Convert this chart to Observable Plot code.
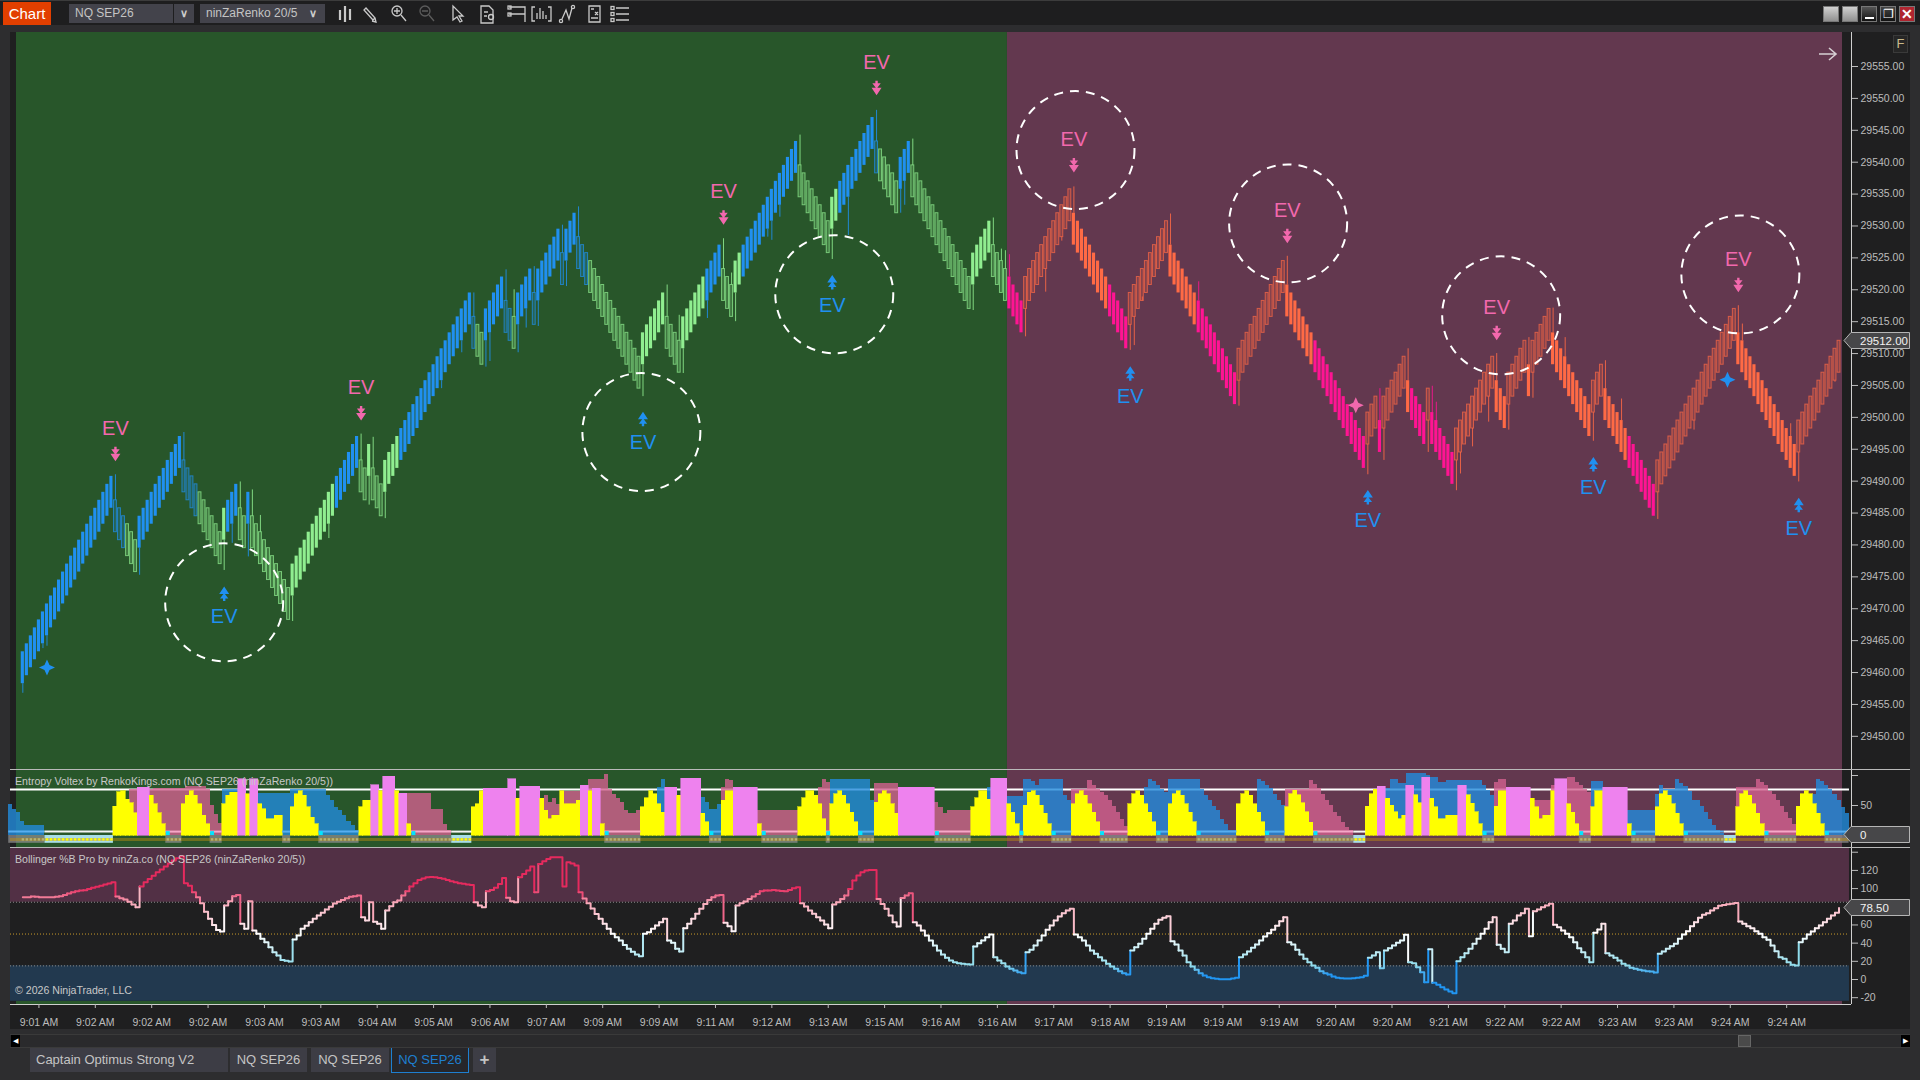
<!DOCTYPE html>
<html><head><meta charset="utf-8">
<style>
html,body{margin:0;padding:0;background:#2d2d2f;width:1920px;height:1080px;overflow:hidden;font-family:"Liberation Sans",Arial,sans-serif}
.abs{position:absolute}
.pl{position:absolute;left:0}
.pl svg{display:block;overflow:visible}
.t{position:absolute;white-space:nowrap;color:#c8c8c8;font-size:10.6px;line-height:12px}
.tab{position:absolute;top:1048px;height:24px;background:#3d3d45;color:#c4c4c4;font-size:13px;line-height:24px;text-align:center}
.wb{position:absolute;top:6px;width:16px;height:16px;box-sizing:border-box;border:1px solid #777}
.sep{position:absolute;left:10px;width:1900px;height:1px;background:#b9b9b9}
</style>
<script src="https://cdn.jsdelivr.net/npm/d3@7"></script>
<script src="https://cdn.jsdelivr.net/npm/@observablehq/plot@0.6"></script>
</head><body>
<div class="abs" style="left:0;top:0;width:1920px;height:25px;background:#1e1e1f;border-top:1px solid #3c3c3c;box-sizing:border-box"></div>
<div class="abs" style="left:3px;top:2px;width:48px;height:23px;background:#e23f00;color:#fff;font-size:15px;line-height:23px;text-align:center">Chart</div>
<div class="abs" style="left:69px;top:4px;width:104px;height:19px;background:#43434b;color:#c4c4c4;font-size:12px;line-height:19px;text-indent:6px">NQ SEP26</div>
<div class="abs" style="left:174px;top:4px;width:20px;height:19px;background:#43434b;color:#ccc;font-size:11px;line-height:19px;text-align:center;font-weight:bold">&#8744;</div>
<div class="abs" style="left:200px;top:4px;width:125px;height:19px;background:#43434b;color:#c4c4c4;font-size:12px;line-height:19px;text-indent:6px">ninZaRenko 20/5</div>
<div class="abs" style="left:309px;top:4px;color:#ccc;font-size:11px;line-height:19px;font-weight:bold">&#8744;</div>
<svg class="abs" style="left:336px;top:4px" width="300" height="20" fill="none" stroke="#c9c9c9" stroke-width="1.3">
<path d="M4 6v10M4 8h0M9 2v16M14 5v11" stroke-width="2.2"/>
<path d="M30 4l9 10-2 2-9-10zM39 14l1 4-4-1"/>
<circle cx="61" cy="7" r="5"/><path d="M65 11l5 6M58 7h6M61 4v6"/>
<circle cx="89" cy="7" r="5" stroke="#5c5c5c"/><path d="M93 11l5 6M86 7h6" stroke="#5c5c5c"/>
<path d="M117 2v14l4-3 3 5 2-1-3-5h4z"/>
<path d="M145 2h8l4 4v13h-12zM148 8h4M148 12h3"/><circle cx="155" cy="13" r="2.5"/>
<path d="M173 3h16v15M173 10h16"/><rect x="172" y="2" width="3" height="3"/><rect x="172" y="9" width="3" height="3"/>
<path d="M199 3h-3v14h3M212 3h3v14h-3M201 15V9M204 15V4M207 15V7M210 15V11"/>
<circle cx="225" cy="17" r="1.6"/><circle cx="237" cy="3" r="1.6"/><path d="M226 15l4-9 3 9 3-11"/>
<path d="M253 2h11v16h-11zM255 5h3M259 8l3 3M262 8l-3 3M255 14h7"/>
<path d="M280 4h13M280 10h13M280 16h13"/><rect x="275" y="2.5" width="3" height="3"/><rect x="275" y="8.5" width="3" height="3"/><rect x="275" y="14.5" width="3" height="3"/>
</svg>
<div class="wb" style="left:1823px;background:linear-gradient(#d0d0d0,#909090)"></div>
<div class="wb" style="left:1842px;background:linear-gradient(#d0d0d0,#909090)"></div>
<div class="wb" style="left:1861px;background:linear-gradient(#555,#111)"><div class="abs" style="left:3px;top:10px;width:9px;height:2px;background:#fff"></div></div>
<div class="wb" style="left:1880px;background:linear-gradient(#444,#111);color:#fff;font-size:12px;line-height:14px;text-align:center">&#10064;</div>
<div class="wb" style="left:1899px;background:#b02530;color:#fff;font-size:14px;line-height:14px;text-align:center;font-weight:bold">&#10005;</div>
<div class="abs" style="left:10px;top:32px;width:1900px;height:997px;background:#1f1f20"></div>
<div id="main" class="pl" style="top:32px"></div>
<div id="vol" class="pl" style="top:769px"></div>
<div id="pct" class="pl" style="top:847px"></div>
<div class="sep" style="top:769px"></div>
<div class="sep" style="top:847px"></div>
<div class="t" style="left:15px;top:775px">Entropy Voltex by RenkoKings.com (NQ SEP26 (ninZaRenko 20/5))</div>
<div class="t" style="left:15px;top:853px">Bollinger %B Pro by ninZa.co (NQ SEP26 (ninZaRenko 20/5))</div>
<div class="t" style="left:15px;top:984px">&copy; 2026 NinjaTrader, LLC</div>
<div class="abs" style="left:1893px;top:35px;width:15px;height:18px;box-sizing:border-box;border:1px solid #3a3a3a;background:#262626;color:#c9b98a;font-size:13px;line-height:16px;text-align:center">F</div>
<svg class="abs" style="left:1818px;top:46px" width="20" height="16" fill="none" stroke="#d6cfd3" stroke-width="1.6"><path d="M1 8h17M11 2l7 6-7 6"/></svg>
<div id="tags"></div>
<div class="abs" style="left:10px;top:1034px;width:1900px;height:14px;background:#2a2a2c;border-top:1px solid #3a3a3a;border-bottom:1px solid #3a3a3a;box-sizing:border-box"></div>
<div class="abs" style="left:11px;top:1035px;width:9px;height:12px;background:#000;color:#fff;font-size:7px;line-height:12px;text-align:center">&#9664;</div>
<div class="abs" style="left:1901px;top:1035px;width:9px;height:12px;background:#000;color:#fff;font-size:7px;line-height:12px;text-align:center">&#9654;</div>
<div class="abs" style="left:1738px;top:1035px;width:13px;height:12px;background:#4a4a4a;border:1px solid #666;box-sizing:border-box"></div>
<div class="tab" style="left:30px;width:198px;text-align:left;text-indent:6px">Captain Optimus Strong V2</div>
<div class="tab" style="left:230px;width:77px">NQ SEP26</div>
<div class="tab" style="left:311px;width:78px">NQ SEP26</div>
<div class="tab" style="left:391px;width:78px;height:25px;background:#26262a;color:#1e7fd0;border:1px solid #1e7fd0;border-top:none;box-sizing:border-box">NQ SEP26</div>
<div class="tab" style="left:473px;width:23px;font-size:17px;font-weight:bold">+</div>
<script>
// Closing price of every renko bar, in 1.25-point bricks above brickBase.
const brickBase = 29449.5, brickSize = 1.25, brickBody = 4;
const closeBricks = [
 11,12,13,14,15,16,17,18,19,20,21,22,23,24,25,26,27,28,29,30,31,32,33,
 26,25,24,23,22,21,
 28,29,30,31,32,33,34,35,36,37,38,
 31,30,29,28,27,26,25,24,23,22,
 29,30,31,32, 25,24, 31,
 24,23,22,21,20,19,18,17,16,15,
 22,23,24,25,26,27,28,29,30,31,32,33,34,35,36,37,38,
 31,30, 37, 30,29,28,
 35,36,37,38,39,40,41,42,43,44,45,46,47,48,49,50,51,52,53,54,55,56,
 49,48,47, 54,55,56,57,58, 51,50,49, 56,57,58,59, 52, 59,60,61,62,63,64, 57, 64,65,66,
 59,58,57,56,55,54,53,52,51,50,49,48,47,46,45,44,
 51,52,53,54,55,56, 49,48,47,46,
 53,54,55,56,57,58,59,60,61,62, 55,54,53,
 60,61,62,63,64,65,66,67,68,69,70,71,72,73,74,75,
 68,67,66,65,64,63,62,61,
 68,69,70,71,72,73,74,75,76,77,78,
 71, 70,69,68,67,66, 73,74,75,
 68,67,66,65,64,63,62,61,60,59,58,57,56,55,54,
 61,62,63,64,65, 58,57,56,55, 54,53,52,51,
 58,59,60,61,62,63,64,65,66,67,68,69,
 62,61,60,59,58,57,56,55,54,53,52,51,50,49,
 56,57,58,59,60,61,62,63,64,65,
 58,57,56,55,54,53,52,51,50,49,48,47,46,45,44,43,42,
 49,50,51,52,53,54,55,56,57,58,59,60,
 53,52,51,50,49,48,47,46,45,44,43,42,41,40,39,38,37,36,35,34,
 41,42,43, 36, 43,44,45,46,47,48, 41,40,39,38,37, 44, 37,36,35,34,33,32,
 39,40,41,42,43,44,45,46,47,48, 41,40,39, 46,47,48,49,50, 43, 50,51,52,53,54,
 47,46,45,44,43,42,41,40,39,38, 45,46,47,
 40,39,38,37,36,35,34,33,32,31,30,29,28,
 35,36,37,38,39,40,41,42,43,44,45,46,47,48,49,50,51,52,53,54,
 47,46,45,44,43,42,41,40,39,38,37,36,35,34,33,
 40,41,42,43,44,45,46,47,48,49,50
];
// Bar paint: [first bar, style]. B/G = blue/green, O/M = orange/magenta; lower case = hollow.
const barStyles = [
 [0,"B"],[23,"b"],[26,"g"],[29,"B"],[40,"b"],[44,"g"],[50,"G"],[51,"B"],[54,"g"],[56,"B"],[57,"g"],[67,"G"],[78,"B"],
 [84,"g"],[86,"G"],[87,"g"],[90,"G"],[94,"B"],[112,"b"],[113,"g"],[115,"B"],[120,"b"],[122,"g"],[123,"B"],[127,"b"],
 [128,"B"],[134,"b"],[135,"B"],[138,"b"],[141,"g"],[154,"G"],[160,"g"],[164,"G"],[170,"B"],[174,"g"],[177,"G"],[179,"B"],
 [193,"g"],[201,"G"],[203,"B"],[212,"b"],[213,"g"],[218,"B"],[221,"g"],[236,"G"],[241,"g"],
 [245,"M"],[249,"o"],[261,"O"],[270,"M"],[275,"o"],[285,"O"],[292,"M"],[302,"o"],[314,"O"],[321,"M"],[334,"o"],[337,"M"],
 [338,"o"],[344,"O"],[345,"M"],[349,"o"],[350,"M"],[356,"o"],[366,"O"],[369,"o"],[374,"O"],[375,"o"],[380,"O"],[390,"o"],
 [393,"O"],[399,"M"],[406,"o"],[426,"O"],[441,"o"]
];
// Wick ends: [bar, brick level].
const wicks = [
 [0,5.8],[5,11.4],[6,11.7],[23,33.2],[29,20.6],[40,38.5],[50,21.2],[52,24.6],[54,32.3],[56,22.9],[57,31.3],[59,28.1],[67,14.8],
 [76,25.2],[84,38.3],[86,29.4],[87,37.9],[90,27.7],[104,44],[109,48.5],[112,56],[115,46.7],[116,47.4],[120,58.9],[122,56.4],
 [123,48.5],[125,51.6],[127,59.3],[128,51.8],[134,64.5],[135,56.8],[138,66.8],[154,43],[160,57],[163,53.2],[164,45.9],
 [170,52.8],[174,62.8],[176,58.5],[177,52.4],[185,63],[186,62.6],[188,65.5],[193,75.8],[201,60.2],[205,63.2],[212,78.9],
 [218,66],[219,67],[221,75.3],[236,53.8],[241,65.4],[243,61.5],[244,61.3],[245,60.8],[249,50.5],[254,56.1],[258,62.5],
 [261,69.3],[275,48.8],[276,49.4],[278,55.5],[285,65.9],[292,57.4],[302,41.8],[314,60.6],[334,33.2],[337,44],[338,35],
 [344,49],[349,36],[350,44.3],[351,42.3],[356,31.2],[357,33.3],[360,36.7],[364,39.8],[366,48.4],[369,38.8],[374,50.4],
 [375,42.8],[380,54.1],[383,50.4],[390,37.4],[393,47.5],[397,42.7],[406,27.6],[415,38.8],[426,54.4],[427,52.1],[439,39.6],
 [441,32.3],[450,44.8]
];
// EV signals: [bar, arrow price].
const sellSignals = [[23,29494.2],[84,29500.6],[174,29531.3],[212,29551.6],[261,29539.5],[314,29528.4],[366,29513.2],[426,29520.7]];
const buySignals  = [[50,29472.4],[154,29499.8],[201,29521.2],[275,29506.9],[334,29487.5],[390,29492.7],[441,29486.3]];
const blueStars = [[6,29460.8],[423.3,29505.9]];
const pinkStars = [[331,29501.9]];
const circles = [[50,29471],[153.6,29497.7],[201.5,29519.3],[261.4,29541.9],[314.2,29530.4],[367.1,29516],[426.5,29522.4]];
const priceTicks = [29450,29455,29460,29465,29470,29475,29480,29485,29490,29495,29500,29505,29510,29515,29520,29525,29530,29535,29540,29545,29550,29555];
const lastPrice = "29512.00", voltexLast = "0", pctLast = "78.50";
// Entropy Voltex front histogram: [first bar, Y yellow / V violet / _ none, value].
const voltexFront = [
 [23,"Y",48],[24,"Y",72],[25,"Y",74],[26,"Y",60],[27,"Y",54],[28,"Y",37],[29,"V",80],[32,"Y",66],[33,"Y",52],[34,"Y",37],[35,"Y",19],[36,"_",0],
 [40,"Y",52],[41,"Y",66],[42,"Y",74],[43,"Y",66],[44,"Y",52],[45,"Y",33],[46,"Y",19],[47,"_",0],
 [50,"Y",52],[51,"Y",66],[52,"Y",71],[53,"Y",71],[54,"V",94],[56,"Y",69],[57,"V",94],[59,"Y",52],[60,"Y",44],[61,"Y",27],[63,"Y",33],[65,"_",0],
 [67,"Y",47],[68,"Y",69],[69,"Y",74],[70,"Y",66],[71,"Y",47],[72,"Y",30],[73,"Y",19],[74,"_",0],
 [84,"Y",47],[85,"Y",58],[87,"V",84],[89,"Y",74],[90,"V",98],[93,"Y",74],[94,"V",70],[96,"Y",19],[97,"_",0],
 [112,"Y",47],[113,"Y",52],[114,"Y",74],[115,"V",78],[121,"V",94],[123,"Y",61],[124,"V",81],[129,"Y",61],[130,"Y",41],[131,"Y",27],[132,"Y",33],[134,"Y",74],[135,"Y",52],[138,"Y",58],[139,"V",83],[141,"Y",74],[142,"V",78],[144,"Y",19],[145,"_",0],
 [154,"Y",47],[155,"Y",62],[156,"Y",74],[157,"Y",69],[158,"Y",52],[159,"Y",38],[160,"V",80],[163,"Y",66],[164,"V",95],[169,"Y",36],[170,"Y",22],[171,"_",0],
 [174,"Y",58],[175,"Y",74],[177,"V",80],[183,"Y",19],[184,"_",0],
 [193,"Y",47],[194,"Y",62],[195,"Y",74],[197,"Y",66],[198,"Y",52],[199,"Y",27],[200,"_",0],
 [201,"Y",52],[202,"Y",69],[203,"Y",74],[204,"Y",66],[205,"Y",52],[206,"Y",38],[207,"Y",22],[208,"_",0],
 [212,"Y",55],[213,"Y",69],[214,"Y",74],[215,"Y",69],[216,"Y",52],[217,"Y",36],[218,"V",80],[227,"_",0],
 [236,"Y",47],[237,"Y",62],[238,"Y",74],[240,"Y",60],[241,"V",95],[245,"Y",52],[246,"Y",38],[247,"Y",19],[248,"_",0],
 [249,"Y",50],[250,"Y",71],[251,"Y",74],[252,"Y",66],[253,"Y",50],[254,"Y",36],[255,"Y",19],[256,"_",0],
 [261,"Y",52],[262,"Y",69],[263,"Y",74],[264,"Y",66],[265,"Y",52],[266,"Y",38],[267,"Y",22],[268,"_",0],
 [275,"Y",52],[276,"Y",69],[277,"Y",74],[278,"Y",66],[279,"Y",52],[280,"Y",38],[281,"Y",22],[282,"_",0],
 [285,"Y",52],[286,"Y",69],[287,"Y",74],[288,"Y",66],[289,"Y",52],[290,"Y",38],[291,"Y",22],[292,"_",0],
 [302,"Y",52],[303,"Y",69],[304,"Y",74],[305,"Y",66],[306,"Y",52],[307,"Y",38],[308,"Y",22],[309,"_",0],
 [314,"Y",47],[315,"Y",69],[316,"Y",75],[317,"Y",67],[318,"Y",54],[319,"Y",39],[320,"Y",21],[321,"_",0],
 [334,"Y",48],[335,"Y",69],[336,"Y",76],[337,"V",81],[339,"Y",61],[340,"Y",50],[341,"Y",39],[342,"Y",27],[343,"Y",33],[344,"V",83],[346,"Y",67],[347,"Y",54],[348,"V",96],
 [350,"Y",61],[351,"Y",47],[352,"Y",27],[354,"Y",33],[357,"V",83],[359,"Y",67],[360,"Y",53],[361,"Y",39],[362,"Y",19],[363,"_",0],
 [366,"Y",48],[367,"Y",74],[369,"V",80],[375,"Y",61],[376,"Y",47],[377,"Y",27],[378,"Y",33],[380,"Y",74],[381,"V",94],[384,"Y",52],[385,"Y",38],[386,"Y",19],[387,"_",0],
 [390,"Y",47],[391,"Y",74],[393,"V",80],[399,"Y",19],[400,"_",0],
 [406,"Y",47],[407,"Y",69],[408,"Y",74],[409,"Y",66],[410,"Y",52],[411,"Y",36],[412,"Y",19],[413,"_",0],
 [426,"Y",47],[427,"Y",69],[428,"Y",74],[429,"Y",66],[430,"Y",52],[431,"Y",36],[432,"Y",19],[433,"_",0],
 [441,"Y",48],[442,"Y",69],[443,"Y",74],[444,"Y",69],[445,"Y",52],[446,"Y",36],[447,"Y",19],[448,"_",0]
];
// Entropy Voltex back histogram: [first bar, B blue / P pink / _ none, value].
const voltexBack = [
 [-3,"B",52],[-2,"B",44],[-1,"B",38],[0,"B",24],[1,"B",16],[6,"_",0],
 [27,"P",77],[33,"P",79],[41,"P",81],[46,"P",77],[47,"P",50],[48,"P",35],[49,"P",20],
 [50,"B",77],[55,"_",0],[59,"B",70],[67,"B",77],[76,"B",66],[77,"B",58],[78,"B",47],[79,"B",41],[80,"B",33],[81,"B",24],[82,"B",16],[83,"B",8],[84,"_",0],
 [94,"P",70],[102,"P",44],[105,"P",19],[106,"P",8],[107,"_",0],
 [130,"P",66],[131,"P",55],[132,"P",61],[133,"P",52],[134,"P",74],[141,"P",94],[145,"P",102],[146,"P",77],[147,"P",69],[148,"P",61],[149,"P",55],[150,"P",41],[151,"P",36],[153,"P",41],[154,"_",0],
 [158,"B",80],[159,"B",94],[160,"_",0],[169,"B",63],[170,"B",55],[171,"B",44],[173,"B",52],[174,"P",80],[175,"P",94],[176,"P",91],[177,"_",0],
 [183,"P",41],[193,"_",0],[198,"P",80],[199,"P",94],[200,"P",88],[201,"B",94],[211,"B",58],[212,"P",86],[218,"_",0],
 [227,"P",55],[228,"P",47],[229,"P",36],[230,"P",41],[236,"_",0],[240,"B",80],[241,"_",0],
 [245,"B",65],[249,"B",94],[251,"B",90],[252,"B",83],[253,"B",94],[259,"B",66],[260,"B",58],
 [261,"P",76],[265,"P",91],[266,"P",84],[267,"P",77],[268,"P",72],[269,"P",66],[270,"P",58],[271,"P",49],[272,"P",38],[273,"P",27],[274,"P",15],[275,"_",0],
 [279,"B",80],[280,"B",94],[281,"B",90],[282,"B",83],[283,"B",77],[284,"B",72],[285,"B",94],[293,"B",77],[294,"B",66],[295,"B",58],[296,"B",49],[297,"B",41],[298,"B",27],[299,"B",19],[300,"B",8],[302,"_",0],
 [307,"B",94],[308,"B",90],[309,"B",84],[310,"B",78],[311,"B",69],[312,"B",58],[313,"B",50],
 [314,"P",77],[320,"P",92],[321,"P",85],[322,"P",78],[323,"P",68],[324,"P",58],[325,"P",50],[326,"P",39],[327,"P",31],[328,"P",22],[329,"P",14],[330,"P",8],[331,"_",0],
 [339,"B",78],[340,"B",94],[342,"B",86],[344,"B",103],[349,"B",100],[350,"B",96],[352,"B",88],[354,"B",92],[363,"B",83],[364,"B",75],[365,"B",67],
 [366,"P",89],[367,"P",94],[369,"_",0],[375,"P",59],[380,"P",83],[381,"P",94],[384,"P",96],[386,"P",88],[387,"P",83],[388,"P",77],[389,"P",72],
 [390,"B",90],[393,"_",0],[399,"B",41],[406,"B",69],[407,"B",83],[408,"B",76],[411,"B",94],[412,"B",86],[413,"B",81],[414,"B",74],[415,"B",58],[417,"B",49],[418,"B",38],[419,"B",27],[420,"B",16],[421,"B",9],[422,"B",4],[423,"_",0],
 [426,"P",80],[431,"P",94],[432,"P",88],[433,"P",83],[434,"P",74],[435,"P",69],[436,"P",58],[437,"P",49],[438,"P",38],[439,"P",29],[440,"P",19],[441,"_",0],
 [442,"B",69],[446,"B",94],[447,"B",90],[448,"B",83],[449,"B",77],[450,"B",69],[451,"B",58],[452,"B",47],[453,"B",37],[454,"_",0]
];
// Entropy Voltex state strip: [first bar, end bar, g grey / l light, base-line colour, cyan start flag].
const voltexStates = [
 [-3,6,"g","blue",0],[6,23,"l","white",0],[36,40,"g","pink",1],[47,50,"g","pink",1],[65,67,"g","blue",0],[74,84,"g","blue",1],
 [97,107,"g","pink",1],[107,112,"l","white",0],[145,154,"g","pink",1],[171,174,"g","blue",1],[184,193,"g","pink",1],[200,201,"g","pink",1],
 [208,212,"g","blue",1],[227,236,"g","pink",1],[248,249,"g","blue",1],[256,261,"g","blue",1],[268,275,"g","pink",1],[282,285,"g","blue",1],
 [292,302,"g","blue",1],[309,314,"g","blue",1],[321,331,"g","pink",1],[331,334,"l","white",0],[363,366,"g","blue",1],[387,390,"g","pink",1],
 [400,406,"g","blue",1],[413,423,"g","blue",1],[423,426,"l","white",0],[433,441,"g","pink",1],[448,454,"g","blue",1]
];
// Bollinger %B, one value per bar.
const pctB = [
 90.5,90.5,91.2,91,90.5,90.5,90.5,90.5,91,91.5,93,94.5,96,97,98,98.3,99.5,101,102,103,104.5,105.5,107,
 91.2,89.5,88,85.5,82.5,79.5,
 102.2,107,110.5,114,118,121,124.2,127.5,131,133.5,135.5,
 106,103,96,90.5,83.9,74.5,66.7,60,54.5,52.7,
 81.3,86,91.5,93, 61.2,55.7, 86,
 53.8,50.2,44.7,41,35.5,30,26.4,21.5,20.5,19.8,
 44,48.4,55.7,59,63,66.7,70.3,73.5,77,80,83.5,85.5,87.5,89.5,91,91.5,92.3,
 68.5,64.8, 85, 63.5,61.2,55.7,
 75.8,80.6,85,87,92.3,97,102.2,106,109.5,111,112.5,112.8,112.5,111.7,110.8,109.5,108,107,106,105.2,104.4,104,
 85,81.3,79.5, 97,98.5,101,105,111.7, 90,86,85, 112.5,116,120,124.2, 96,
 127,130,132.6,134.4,134.6,134.4, 102.2, 128.9,127.5,125.3,
 96,89,83.9,78,72,66.7,61.2,55.7,50.2,46.6,42.9,38,33.7,30.5,27.5,25.5,
 50.2,52,55.7,59.3,63,66.7, 42.9,40.3,33.7,30.8,
 56.4,61.2,66.7,72.2,77.7,83,87.5,90.5,92.3,93, 62.3,58.6,53.1,
 81.3,83.9,85.7,88.6,91.2,94,97,97.8,98,98.5,98,97.4,97,98.5,100.4,101.5,
 83.9,80.2,75.8,72.2,68.5,64.8,60.4,56.4,
 82.4,85,88.6,92.3,99.6,108.8,114.3,118,119.8,120.5,120.5,
 88.6,83,77.7,70.3,63,58.2, 89.7,92.3,94.9,
 63,59.3,53.8,48.4,42.9,37.4,31.9,27.5,23.8,20.9,19,17.9,17.2,16.8,16.5,
 36.3,39.9,42.9,46.5,49.5, 24.5,20.9,17.9,14.3,11.7,9.9,8.1,7,
 30,32.6,37.4,42.9,48.4,54.6,59.3,64.8,69.2,72.9,75.8,77.7,
 49.5,46.5,42.9,37.4,31.9,28.2,24.5,20.9,17.2,14.3,11.7,9.2,7,5.5,
 31.9,35.5,39.2,44.7,50.2,55.7,61.2,65.6,67.8,69.6,
 42.1,38.5,31.9,26.4,19,14.3,10.6,7,4.4,2.6,1.5,0.7,0.4,0.4,0.4,1.1,1.8,
 24.5,27.5,30.8,34.8,38.5,42.9,47.3,50.9,54.8,59,64.1,68.5,
 41,38.5,32.6,27.5,22.7,19,15.4,12.8,9.2,7,5.5,3.3,1.8,1.5,1.1,1.1,1.5,1.8,2.6,4,
 23.8,26.4,30, 12.5, 31.9,34.4,37.4,40.3,42.9,49.1,
 19,17.9,13.6,8.1,-2.9, 33.3, -3.7,-5.9,-8.4,-11,-13.2,-15,
 20.1,24.5,28.9,33.7,39.2,44.7,50.2,55.7,63,68.5, 38.1,33.7,30,
 61.2,64.8,70.3,72.9,77.7, 47.6, 75.1,76.9,79.5,81.3,83.2,
 60.1,57.5,53.8,50.2,46.5,41,34.4,30,24.5,19, 51.3,54.9,61.2,
 28.9,26.4,23.8,20.9,17.2,15.4,12.8,11.7,10.6,9.9,9.2,8.8,7.7,
 28.2,30.8,33.7,36.6,39.2,44.7,49.5,53.1,58.6,63,67.8,71.1,72.9,75.8,78.4,81,82,82.8,83.2,84.2,
 63.7,61.2,58.6,56.4,53.1,50.2,46.5,43.6,37.4,31.1,24.5,22.7,19,16.1,15.4,
 41,44.7,49.5,52.7,56.4,59.3,63,66.7,70.3,73.3,78.5
];
const timeTickBars = [4,18,32,46,60,74,88,102,116,130,144,158,172,186,200,214,228,242,256,270,284,298,312,326,340,354,368,382,396,410,424,438];
const timeLabels = ["9:01 AM","9:02 AM","9:02 AM","9:02 AM","9:03 AM","9:03 AM","9:04 AM","9:05 AM","9:06 AM","9:07 AM","9:09 AM","9:09 AM","9:11 AM","9:12 AM","9:13 AM","9:15 AM","9:16 AM","9:16 AM","9:17 AM","9:18 AM","9:19 AM","9:19 AM","9:19 AM","9:20 AM","9:20 AM","9:21 AM","9:22 AM","9:22 AM","9:23 AM","9:23 AM","9:24 AM","9:24 AM"];
const zoneSplit = 244.5;

const pal = {B:"#2090f0",G:"#90ee90",O:"#ff6a45",M:"#ff1493"};
const xDomain = [-3.06,454.1], zoneLeft = -1.57, zoneRight = 451.87, bandRight = 453.6;
const GREEN = "#28562a", PURPLE = "#63384f";
const base = {width:1920, marginLeft:10, marginRight:69, marginTop:0,
  style:{background:"transparent",color:"#bcbcbc",fontFamily:"Liberation Sans",fontSize:"10.5px"}};
const price = k => brickBase + brickSize*k;
const styleOf = i => { let s="B"; for (const [a,c] of barStyles) { if (a<=i) s=c; else break; } return s; };
const bars = closeBricks.map((k,i)=>{
  const st = styleOf(i), hollow = st===st.toLowerCase(), dir = i===0 || k>closeBricks[i-1] ? 1 : -1;
  return {i, close:price(k), open:price(k-dir*brickBody), color:pal[st.toUpperCase()], hollow};
});
const wickRows = wicks.map(([i,k])=>{
  const b=bars[i], p=price(k), hi=Math.max(b.open,b.close), lo=Math.min(b.open,b.close);
  return {i, p, edge:p>hi?hi:lo, color:b.color};
});
const zones = [{a:zoneLeft,b:zoneSplit,c:GREEN},{a:zoneSplit,b:zoneRight,c:PURPLE}];
const multi = shapes => ({draw(c){shapes.forEach(s=>{s.forEach((p,i)=>i?c.lineTo(p[0],p[1]):c.moveTo(p[0],p[1]));c.closePath();});}});
const downGlyph = [[[-1.2,-7.5],[1.2,-7.5],[1.2,-4.5],[-1.2,-4.5]],[[-4.2,-5],[4.2,-5],[0,0.5]],[[-5,-0.5],[5,-0.5],[0,7]]];
const upGlyph = downGlyph.map(s=>s.map(([x,y])=>[x,-y]));
const star = multi([[[0,-8],[2.5,-2.5],[8,0],[2.5,2.5],[0,8],[-2.5,2.5],[-8,0],[-2.5,-2.5]]]);
const yMain = [29444.8,29560.33];

document.getElementById("main").append(Plot.plot({...base, height:737, marginBottom:0,
  x:{domain:xDomain,axis:null}, y:{domain:yMain,axis:null}, color:{type:"identity"},
  marks:[
    Plot.rect(zones,{x1:"a",x2:"b",y1:()=>yMain[0],y2:()=>yMain[1],fill:"c"}),
    Plot.ruleX(wickRows,{x:"i",y1:"edge",y2:"p",stroke:"color",strokeWidth:1,strokeOpacity:0.85}),
    Plot.rect(bars.filter(d=>!d.hollow),{x1:d=>d.i-0.39,x2:d=>d.i+0.39,y1:"open",y2:"close",fill:"color"}),
    Plot.rect(bars.filter(d=>d.hollow),{x1:d=>d.i-0.36,x2:d=>d.i+0.36,y1:"open",y2:"close",fill:"color",fillOpacity:0.22,stroke:"color",strokeOpacity:0.72,strokeWidth:1}),
    Plot.dot(circles,{x:d=>d[0],y:d=>d[1],r:59,fill:"none",stroke:"#fff",strokeWidth:2,strokeDasharray:"9,7"}),
    Plot.dot(sellSignals,{x:d=>d[0],y:d=>d[1],r:5,fill:"#f268ad",stroke:"none",symbol:multi(downGlyph)}),
    Plot.dot(buySignals,{x:d=>d[0],y:d=>d[1],r:5,fill:"#2090f0",stroke:"none",symbol:multi(upGlyph)}),
    Plot.text(sellSignals,{x:d=>d[0],y:d=>d[1],text:()=>"EV",dy:-26,fill:"#f268ad",fontSize:20}),
    Plot.text(buySignals,{x:d=>d[0],y:d=>d[1],text:()=>"EV",dy:23.5,fill:"#2090f0",fontSize:20}),
    Plot.dot(blueStars,{x:d=>d[0],y:d=>d[1],r:5,fill:"#2090f0",stroke:"none",symbol:star}),
    Plot.dot(pinkStars,{x:d=>d[0],y:d=>d[1],r:5,fill:"#f268ad",stroke:"none",symbol:star}),
    Plot.ruleX([xDomain[1]],{stroke:"#cfcfcf"}),
    Plot.axisY({anchor:"right",ticks:priceTicks,tickFormat:d=>d.toFixed(2),tickSize:6,tickPadding:3,label:null})
  ]}));

const runs = (rows,upTo) => rows.map((r,j)=>({s:r[0],e:j+1<rows.length?rows[j+1][0]:upTo,k:r[1],v:r[2]})).filter(r=>r.k!=="_");
const frontColor = {Y:"#ffff00",V:"#ee82ee"}, backColor = {B:"#228bdc",P:"#d2608f"};
const lineColor = {blue:"#58aef0",pink:"#f5a8c8",white:"#f4f4f4"};
const stateDots = voltexStates.flatMap(r=>d3.range(Math.max(r[0],0),Math.min(r[1],452)).map(i=>({i,st:r[2]})));
const yVol=[-20,110];
document.getElementById("vol").append(Plot.plot({...base, height:78, marginBottom:0,
  x:{domain:xDomain,axis:null}, y:{domain:yVol,axis:null}, color:{type:"identity"},
  marks:[
    Plot.rect(zones,{x1:"a",x2:"b",y1:()=>yVol[0],y2:()=>yVol[1],fill:"c"}),
    Plot.ruleY([76.7],{x1:()=>xDomain[0],x2:()=>bandRight,stroke:"#fff",strokeWidth:2}),
    Plot.rect(runs(voltexBack,454),{x1:d=>d.s-0.5,x2:d=>d.e-0.5,y1:()=>0,y2:"v",fill:d=>backColor[d.k],fillOpacity:0.8,shapeRendering:"crispEdges"}),
    Plot.rect(runs(voltexFront,448),{x1:d=>d.s-0.5,x2:d=>d.e-0.5,y1:()=>0,y2:"v",fill:d=>frontColor[d.k],stroke:d=>frontColor[d.k],strokeWidth:0.6,shapeRendering:"crispEdges"}),
    Plot.rect(voltexStates,{x1:d=>d[0]-0.5,x2:d=>Math.min(d[1]-0.5,bandRight),y1:()=>0,y2:()=>-13,fill:d=>d[2]==="g"?"#8c8c8c":"#a8dde8",fillOpacity:d=>d[2]==="g"?0.75:1}),
    Plot.ruleY([-6.5],{x1:()=>xDomain[0],x2:()=>bandRight,stroke:"#c09010",strokeOpacity:0.45,strokeWidth:3}),
    Plot.dot(stateDots,{x:"i",y:()=>-6.5,r:1.3,symbol:"square",stroke:"none",fill:d=>d.st==="g"?"#b4b47a":"#ffff00"}),
    Plot.ruleY(voltexStates,{x1:d=>d[0]-0.5,x2:d=>Math.min(d[1]-0.5,bandRight),y:()=>6.5,stroke:d=>lineColor[d[3]],strokeWidth:2}),
    Plot.dot(voltexStates.filter(d=>d[4]),{x:d=>d[0],y:()=>4,r:2.2,symbol:"square",stroke:"none",fill:"#00e5ff"}),
    Plot.ruleX([xDomain[1]],{stroke:"#cfcfcf"}),
    Plot.axisY({anchor:"right",ticks:[100,50,0],tickFormat:d=>d===100?"":d,tickSize:6,tickPadding:3,label:null})
  ]}));

const pctRows = pctB.map((v,i)=>({i,v}));
const yPct=[-27.5,145.2];
document.getElementById("pct").append(Plot.plot({...base, height:182, marginBottom:25,
  x:{domain:xDomain,axis:null}, y:{domain:yPct,axis:null},
  color:{type:"linear",domain:[5,15,50,85,100],range:["#2196f3","#8fdcec","#ffffff","#f8a8b8","#e62a5e"],clamp:true},
  marks:[
    Plot.rect([0],{x1:()=>zoneLeft,x2:()=>zoneSplit,y1:()=>yPct[0],y2:()=>-24,fill:GREEN}),
    Plot.rect([0],{x1:()=>zoneSplit,x2:()=>zoneRight,y1:()=>yPct[0],y2:()=>-24,fill:PURPLE}),
    Plot.rect([0],{x1:()=>xDomain[0],x2:()=>bandRight,y1:()=>85,y2:()=>yPct[1],fill:"#523045"}),
    Plot.rect([0],{x1:()=>xDomain[0],x2:()=>bandRight,y1:()=>-24,y2:()=>15,fill:"#22394f"}),
    Plot.ruleY([85,15],{x1:()=>xDomain[0],x2:()=>bandRight,stroke:"#8a8a8a",strokeWidth:1,strokeDasharray:"1,2"}),
    Plot.ruleY([50],{x1:()=>xDomain[0],x2:()=>bandRight,stroke:"#c99a2a",strokeWidth:1,strokeDasharray:"1,2"}),
    Plot.line(pctRows,{x:"i",y:"v",z:null,stroke:"v",strokeWidth:2,curve:"step-after"}),
    Plot.ruleX([xDomain[1]],{stroke:"#cfcfcf"}),
    Plot.ruleY([yPct[0]],{stroke:"#cfcfcf"}),
    Plot.axisY({anchor:"right",ticks:[140,120,100,80,60,40,20,0,-20],tickFormat:d=>(d===140||d===80)?"":d,tickSize:6,tickPadding:3,label:null}),
    Plot.axisX({anchor:"bottom",ticks:timeTickBars,tickFormat:d=>timeLabels[timeTickBars.indexOf(d)],tickSize:4,tickPadding:10,label:null})
  ]}));

// Last-value tags on the right axes.
const tag = (top,txt) => `<svg class="abs" style="left:1843px;top:${top}px" width="68" height="17">
<path d="M8 .5H66.5V16.5H8L1 8.5Z" fill="#474749" stroke="#b5b5b5"/>
<text x="17" y="12.5" fill="#f2f2f2" font-family="Liberation Sans" font-size="11.5">${txt}</text></svg>`;
document.getElementById("tags").innerHTML = tag(332,lastPrice)+tag(826,voltexLast)+tag(899,pctLast);
</script>
</body></html>
